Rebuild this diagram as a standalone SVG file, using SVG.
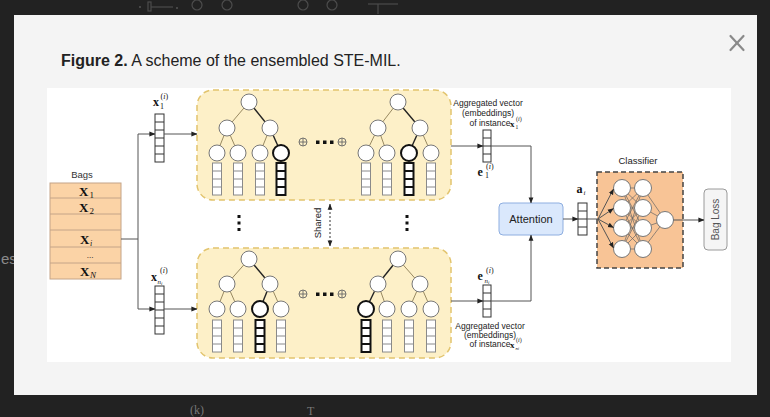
<svg xmlns="http://www.w3.org/2000/svg" width="770" height="417" viewBox="0 0 770 417">
<defs>
<marker id="ah" viewBox="0 0 8 8" refX="7.5" refY="4" markerWidth="6" markerHeight="6" orient="auto" markerUnits="userSpaceOnUse"><path d="M0,0.8 L8,4 L0,7.2 Z" fill="#222"/></marker>
<marker id="ahs" viewBox="0 0 8 8" refX="7.5" refY="4" markerWidth="6" markerHeight="6" orient="auto-start-reverse" markerUnits="userSpaceOnUse"><path d="M0,0.8 L8,4 L0,7.2 Z" fill="#222"/></marker>
<style>
.bgart{fill:none;stroke:#4c4c4c;stroke-width:1.2}
.sans{font-family:"Liberation Sans",Arial,sans-serif}
.serif{font-family:"Liberation Serif","Times New Roman",serif}
.mb{font-family:"Liberation Serif","Times New Roman",serif;font-weight:bold;fill:#111}
.ms{font-family:"Liberation Serif","Times New Roman",serif;fill:#111}
.yb{fill:#fdf0c8;stroke:#e2c46e;stroke-width:1.5;stroke-dasharray:6 4}
.tc{fill:#fff;stroke:#777;stroke-width:1}
.tcb{fill:#fff;stroke:#111;stroke-width:2}
.te{stroke:#8c7d55;stroke-width:0.9;fill:none}
.teb{stroke:#222;stroke-width:1.4;fill:none}
.vc{fill:#fff;stroke:#8a8a8a;stroke-width:1}
.vcb{fill:#fff;stroke:#111;stroke-width:2}
.vl{stroke:#8a8a8a;stroke-width:1}
.vlb{stroke:#111;stroke-width:2}
.iv{fill:#fff;stroke:#333;stroke-width:1}
.ivl{stroke:#333;stroke-width:1}
.cn{fill:none;stroke:#555;stroke-width:1}
.nn{fill:#fff;stroke:#777;stroke-width:1}
.ne{stroke:#666;stroke-width:0.7}
.dot{fill:#111}
.op{fill:none;stroke:#666;stroke-width:0.9}
.agg{font-family:"Liberation Sans",Arial,sans-serif;font-size:8.5px;fill:#222;text-anchor:middle}
</style>
</defs>
<rect x="0" y="0" width="770" height="417" fill="#222"/>
<g id="background-artefacts">
<circle cx="140" cy="7" r="1" fill="#555"/>
<rect x="148" y="2" width="3" height="9" class="bgart"/>
<line x1="151" y1="7" x2="173" y2="7" class="bgart"/>
<circle cx="177" cy="8" r="1" fill="#555"/>
<circle cx="197" cy="5" r="5" class="bgart"/>
<circle cx="227" cy="5" r="5" class="bgart"/>
<circle cx="303" cy="5" r="5" class="bgart"/>
<circle cx="332" cy="5" r="5" class="bgart"/>
<line x1="368" y1="4" x2="398" y2="4" class="bgart"/>
<line x1="378" y1="4" x2="378" y2="14" class="bgart"/>
<text x="1" y="264" class="sans" font-size="15" fill="#8a8a8a">es</text>
<text x="190" y="414" class="serif" font-size="12" fill="#777">(k)</text>
<text x="307" y="415" class="serif" font-size="12" fill="#777">T</text>
</g>
<rect x="14" y="15" width="743" height="380" fill="#f4f4f4"/>
<g id="close" stroke="#8a8a8a" stroke-width="2.2" stroke-linecap="round">
<line x1="730.5" y1="36" x2="743.5" y2="50"/>
<line x1="743.5" y1="36" x2="730.5" y2="50"/>
</g>
<text x="61" y="66" class="sans" font-size="16" fill="#222"><tspan font-weight="bold">Figure 2.</tspan> A scheme of the ensembled STE-MIL.</text>
<rect x="47" y="88" width="684" height="274" fill="#fff"/>

<g id="bags">
<text x="82" y="178" text-anchor="middle" class="sans" font-size="9.5" fill="#333">Bags</text>
<rect x="50" y="183" width="71" height="96" fill="#fbd3a6" stroke="#c4a488" stroke-width="1"/>
<g stroke="#c4a488" stroke-width="1">
<line x1="50" y1="198" x2="121" y2="198"/>
<line x1="50" y1="214" x2="121" y2="214"/>
<line x1="50" y1="230" x2="121" y2="230"/>
<line x1="50" y1="247" x2="121" y2="247"/>
<line x1="50" y1="263" x2="121" y2="263"/>
</g>
<text x="79" y="196" class="mb" font-size="13">X</text><text x="89.5" y="198" class="ms" font-size="9">1</text>
<text x="79" y="212" class="mb" font-size="13">X</text><text x="89.5" y="214" class="ms" font-size="9">2</text>
<text x="80" y="244" class="mb" font-size="13">X</text><text x="90" y="245.5" class="ms" font-size="8" font-style="italic">i</text>
<text x="90" y="258" text-anchor="middle" class="ms" font-size="9">...</text>
<text x="80" y="276" class="mb" font-size="13">X</text><text x="90" y="278" class="ms" font-size="9" font-style="italic">N</text>
</g>

<g id="x1-vector">
<text x="153" y="106" class="mb" font-size="12">x</text><text x="160" y="109" class="ms" font-size="8">1</text><text x="160.5" y="99" class="ms" font-size="8">(<tspan font-style="italic">i</tspan>)</text>
<rect x="155" y="114" width="9" height="48" class="iv"/>
<g class="ivl"><line x1="155" y1="122" x2="164" y2="122"/><line x1="155" y1="130" x2="164" y2="130"/><line x1="155" y1="138" x2="164" y2="138"/><line x1="155" y1="146" x2="164" y2="146"/><line x1="155" y1="154" x2="164" y2="154"/></g>
</g>
<g id="xn-vector">
<text x="151" y="281" class="mb" font-size="12">x</text><text x="157.5" y="284" class="ms" font-size="7" font-style="italic">n<tspan font-size="5" dy="1">i</tspan></text><text x="160" y="273" class="ms" font-size="8">(<tspan font-style="italic">i</tspan>)</text>
<rect x="155" y="286" width="9" height="48" class="iv"/>
<g class="ivl"><line x1="155" y1="294" x2="164" y2="294"/><line x1="155" y1="302" x2="164" y2="302"/><line x1="155" y1="310" x2="164" y2="310"/><line x1="155" y1="318" x2="164" y2="318"/><line x1="155" y1="326" x2="164" y2="326"/></g>
</g>

<g id="ensemble-top">
<rect x="197" y="90" width="254" height="110" rx="16" class="yb"/>
<line x1="249" y1="102" x2="227" y2="128" class="te"/><line x1="249" y1="102" x2="270" y2="128" class="teb"/>
<line x1="227" y1="128" x2="217" y2="153" class="te"/><line x1="227" y1="128" x2="238" y2="153" class="te"/>
<line x1="270" y1="128" x2="260" y2="153" class="te"/><line x1="270" y1="128" x2="281" y2="153" class="teb"/>
<circle cx="249" cy="102" r="8" class="tc" stroke="#333"/>
<circle cx="227" cy="128" r="8" class="tc"/><circle cx="270" cy="128" r="8" class="tc" stroke="#222" stroke-width="1.4"/>
<circle cx="217" cy="153" r="8" class="tc"/><circle cx="238" cy="153" r="8" class="tc"/><circle cx="260" cy="153" r="8" class="tc"/><circle cx="281" cy="153" r="8" class="tcb"/>
<line x1="398" y1="102" x2="378" y2="128" class="te"/><line x1="398" y1="102" x2="420" y2="128" class="teb"/>
<line x1="378" y1="128" x2="366" y2="153" class="te"/><line x1="378" y1="128" x2="387" y2="153" class="te"/>
<line x1="420" y1="128" x2="409" y2="153" class="teb"/><line x1="420" y1="128" x2="431" y2="153" class="te"/>
<circle cx="398" cy="102" r="8" class="tc" stroke="#333"/>
<circle cx="378" cy="128" r="8" class="tc"/><circle cx="420" cy="128" r="8" class="tc" stroke="#222" stroke-width="1.4"/>
<circle cx="366" cy="153" r="8" class="tc"/><circle cx="387" cy="153" r="8" class="tc"/><circle cx="409" cy="153" r="8" class="tcb"/><circle cx="431" cy="153" r="8" class="tc"/>
<g id="leaf-vectors-top">
<g transform="translate(212.5,163)"><rect width="9" height="32" class="vc"/><path d="M0,8H9M0,16H9M0,24H9" class="vl"/></g>
<g transform="translate(233.5,163)"><rect width="9" height="32" class="vc"/><path d="M0,8H9M0,16H9M0,24H9" class="vl"/></g>
<g transform="translate(255.5,163)"><rect width="9" height="32" class="vc"/><path d="M0,8H9M0,16H9M0,24H9" class="vl"/></g>
<g transform="translate(276.5,163)"><rect width="9" height="32" class="vcb"/><path d="M0,8H9M0,16H9M0,24H9" class="vlb"/></g>
<g transform="translate(361.5,163)"><rect width="9" height="32" class="vc"/><path d="M0,8H9M0,16H9M0,24H9" class="vl"/></g>
<g transform="translate(382.5,163)"><rect width="9" height="32" class="vc"/><path d="M0,8H9M0,16H9M0,24H9" class="vl"/></g>
<g transform="translate(404.5,163)"><rect width="9" height="32" class="vcb"/><path d="M0,8H9M0,16H9M0,24H9" class="vlb"/></g>
<g transform="translate(426.5,163)"><rect width="9" height="32" class="vc"/><path d="M0,8H9M0,16H9M0,24H9" class="vl"/></g>
</g>
<circle cx="303" cy="142" r="4" class="op"/><path d="M299,142H307M303,138V146" class="op"/>
<rect x="316" y="140.5" width="3.5" height="3.5" class="dot"/><rect x="323" y="140.5" width="3.5" height="3.5" class="dot"/><rect x="330" y="140.5" width="3.5" height="3.5" class="dot"/>
<circle cx="342" cy="142" r="4" class="op"/><path d="M338,142H346M342,138V146" class="op"/>
</g>

<g id="ensemble-bottom">
<rect x="197" y="248" width="254" height="110" rx="16" class="yb"/>
<line x1="249" y1="259" x2="227" y2="284" class="te"/><line x1="249" y1="259" x2="270" y2="284" class="teb"/>
<line x1="227" y1="284" x2="217" y2="309" class="te"/><line x1="227" y1="284" x2="238" y2="309" class="te"/>
<line x1="270" y1="284" x2="260" y2="309" class="teb"/><line x1="270" y1="284" x2="281" y2="309" class="te"/>
<circle cx="249" cy="259" r="8" class="tc" stroke="#333"/>
<circle cx="227" cy="284" r="8" class="tc"/><circle cx="270" cy="284" r="8" class="tc" stroke="#222" stroke-width="1.4"/>
<circle cx="217" cy="309" r="8" class="tc"/><circle cx="238" cy="309" r="8" class="tc"/><circle cx="260" cy="309" r="8" class="tcb"/><circle cx="281" cy="309" r="8" class="tc"/>
<line x1="398" y1="259" x2="378" y2="284" class="teb"/><line x1="398" y1="259" x2="420" y2="284" class="te"/>
<line x1="378" y1="284" x2="366" y2="309" class="teb"/><line x1="378" y1="284" x2="387" y2="309" class="te"/>
<line x1="420" y1="284" x2="409" y2="309" class="te"/><line x1="420" y1="284" x2="431" y2="309" class="te"/>
<circle cx="398" cy="259" r="8" class="tc" stroke="#333"/>
<circle cx="378" cy="284" r="8" class="tc" stroke="#222" stroke-width="1.4"/><circle cx="420" cy="284" r="8" class="tc"/>
<circle cx="366" cy="309" r="8" class="tcb"/><circle cx="387" cy="309" r="8" class="tc"/><circle cx="409" cy="309" r="8" class="tc"/><circle cx="431" cy="309" r="8" class="tc"/>
<g id="leaf-vectors-bottom">
<g transform="translate(212.5,320)"><rect width="9" height="32" class="vc"/><path d="M0,8H9M0,16H9M0,24H9" class="vl"/></g>
<g transform="translate(233.5,320)"><rect width="9" height="32" class="vc"/><path d="M0,8H9M0,16H9M0,24H9" class="vl"/></g>
<g transform="translate(255.5,320)"><rect width="9" height="32" class="vcb"/><path d="M0,8H9M0,16H9M0,24H9" class="vlb"/></g>
<g transform="translate(276.5,320)"><rect width="9" height="32" class="vc"/><path d="M0,8H9M0,16H9M0,24H9" class="vl"/></g>
<g transform="translate(361.5,320)"><rect width="9" height="32" class="vcb"/><path d="M0,8H9M0,16H9M0,24H9" class="vlb"/></g>
<g transform="translate(382.5,320)"><rect width="9" height="32" class="vc"/><path d="M0,8H9M0,16H9M0,24H9" class="vl"/></g>
<g transform="translate(404.5,320)"><rect width="9" height="32" class="vc"/><path d="M0,8H9M0,16H9M0,24H9" class="vl"/></g>
<g transform="translate(426.5,320)"><rect width="9" height="32" class="vc"/><path d="M0,8H9M0,16H9M0,24H9" class="vl"/></g>
</g>
<circle cx="303" cy="294" r="4" class="op"/><path d="M299,294H307M303,290V298" class="op"/>
<rect x="316" y="292.5" width="3.5" height="3.5" class="dot"/><rect x="323" y="292.5" width="3.5" height="3.5" class="dot"/><rect x="330" y="292.5" width="3.5" height="3.5" class="dot"/>
<circle cx="342" cy="294" r="4" class="op"/><path d="M338,294H346M342,290V298" class="op"/>
</g>

<g id="vdots">
<rect x="237.5" y="215" width="3" height="3" class="dot"/><rect x="237.5" y="221.5" width="3" height="3" class="dot"/><rect x="237.5" y="228" width="3" height="3" class="dot"/>
<rect x="405.5" y="215" width="3" height="3" class="dot"/><rect x="405.5" y="221.5" width="3" height="3" class="dot"/><rect x="405.5" y="228" width="3" height="3" class="dot"/>
</g>
<g id="shared">
<text transform="translate(321,223) rotate(-90)" text-anchor="middle" class="sans" font-size="9.5" fill="#222">Shared</text>
</g>

<g id="e1-vector">
<text x="488" y="106" class="agg">Aggregated vector</text>
<text x="488" y="116" class="agg">(embeddings)</text>
<text x="490" y="126" class="agg">of instance</text>
<text x="510" y="127" class="mb" font-size="9">x</text><text x="515.5" y="129" class="ms" font-size="5.5">1</text><text x="516" y="121" class="ms" font-size="6">(<tspan font-style="italic">i</tspan>)</text>
<rect x="483" y="130" width="8" height="32" class="iv"/>
<path d="M483,138H491M483,146H491M483,154H491" class="ivl"/>
<text x="477.5" y="176" class="mb" font-size="12">e</text><text x="485" y="178" class="ms" font-size="8">1</text><text x="486" y="169" class="ms" font-size="8">(<tspan font-style="italic">i</tspan>)</text>
</g>
<g id="en-vector">
<text x="477.5" y="280" class="mb" font-size="12">e</text><text x="484.5" y="283" class="ms" font-size="7" font-style="italic">n<tspan font-size="5" dy="1">i</tspan></text><text x="486" y="273" class="ms" font-size="8">(<tspan font-style="italic">i</tspan>)</text>
<rect x="483" y="285" width="8" height="32" class="iv"/>
<path d="M483,293H491M483,301H491M483,309H491" class="ivl"/>
<text x="490" y="329" class="agg">Aggregated vector</text>
<text x="490" y="338" class="agg">(embeddings)</text>
<text x="490" y="347" class="agg">of instance</text>
<text x="510" y="348" class="mb" font-size="9">x</text><text x="515.5" y="350" class="ms" font-size="5" font-style="italic">n<tspan font-size="4">i</tspan></text><text x="516" y="342" class="ms" font-size="6">(<tspan font-style="italic">i</tspan>)</text>
</g>

<g id="attention">
<rect x="499" y="203" width="64" height="32" rx="4" fill="#dae8fc" stroke="#8eaee0" stroke-width="1"/>
<text x="531" y="223" text-anchor="middle" class="sans" font-size="11" fill="#222">Attention</text>
</g>
<g id="ai-vector">
<text x="576.5" y="193" class="mb" font-size="12">a</text><text x="583.5" y="195" class="ms" font-size="7" font-style="italic">i</text>
<rect x="578" y="203" width="9" height="32" class="iv"/>
<path d="M578,211H587M578,219H587M578,227H587" class="ivl"/>
</g>

<g id="classifier">
<text x="638" y="164" text-anchor="middle" class="sans" font-size="9.5" fill="#222">Classifier</text>
<rect x="597" y="172" width="86" height="96" fill="#f8c496" stroke="#444" stroke-width="1.5" stroke-dasharray="5 3"/>
<g class="ne">
<path d="M622,188L643,188M622,188L643,208M622,188L643,228M622,188L643,249"/>
<path d="M622,208L643,188M622,208L643,208M622,208L643,228M622,208L643,249"/>
<path d="M622,228L643,188M622,228L643,208M622,228L643,228M622,228L643,249"/>
<path d="M622,249L643,188M622,249L643,208M622,249L643,228M622,249L643,249"/>
<path d="M643,188L665,220M643,208L665,220M643,228L665,220M643,249L665,220"/>
</g>
<g class="nn">
<circle cx="622" cy="188" r="8.5"/><circle cx="622" cy="208" r="8.5"/><circle cx="622" cy="228" r="8.5"/><circle cx="622" cy="249" r="8.5"/>
<circle cx="643" cy="188" r="8.5"/><circle cx="643" cy="208" r="8.5"/><circle cx="643" cy="228" r="8.5"/><circle cx="643" cy="249" r="8.5"/>
<circle cx="665" cy="220" r="8.5"/>
</g>
</g>
<g id="bag-loss">
<rect x="704" y="189" width="23" height="61" rx="4" fill="#f5f5f5" stroke="#9a9a9a" stroke-width="1"/>
<text transform="translate(719,219.5) rotate(-90)" text-anchor="middle" class="sans" font-size="10" fill="#555">Bag Loss</text>
</g>

<g id="connectors">
<path d="M121,239H138" class="cn"/>
<path d="M138,134V309" class="cn"/>
<path d="M138,134H155" class="cn" marker-end="url(#ah)"/>
<path d="M138,309H155" class="cn" marker-end="url(#ah)"/>
<path d="M164,134H197" class="cn" marker-end="url(#ah)"/>
<path d="M164,309H197" class="cn" marker-end="url(#ah)"/>
<path d="M451,146H483" class="cn" marker-end="url(#ah)"/>
<path d="M491,146H531V203" class="cn" marker-end="url(#ah)"/>
<path d="M451,301H483" class="cn" marker-end="url(#ah)"/>
<path d="M491,301H531V235" class="cn" marker-end="url(#ah)"/>
<path d="M563,219H578" class="cn" marker-end="url(#ah)"/>
<path d="M587,219H598" class="cn"/>
<path d="M598,219L613.5,189" class="cn" marker-end="url(#ah)"/>
<path d="M598,219L613.5,208.5" class="cn" marker-end="url(#ah)"/>
<path d="M598,219L613.5,227.5" class="cn" marker-end="url(#ah)"/>
<path d="M598,219L613.5,248" class="cn" marker-end="url(#ah)"/>
<path d="M673.5,220H704" class="cn" marker-end="url(#ah)"/>
<path d="M330,204V246" fill="none" stroke="#333" stroke-width="1" stroke-dasharray="2 2" marker-start="url(#ahs)" marker-end="url(#ahs)"/>
</g>
</svg>
